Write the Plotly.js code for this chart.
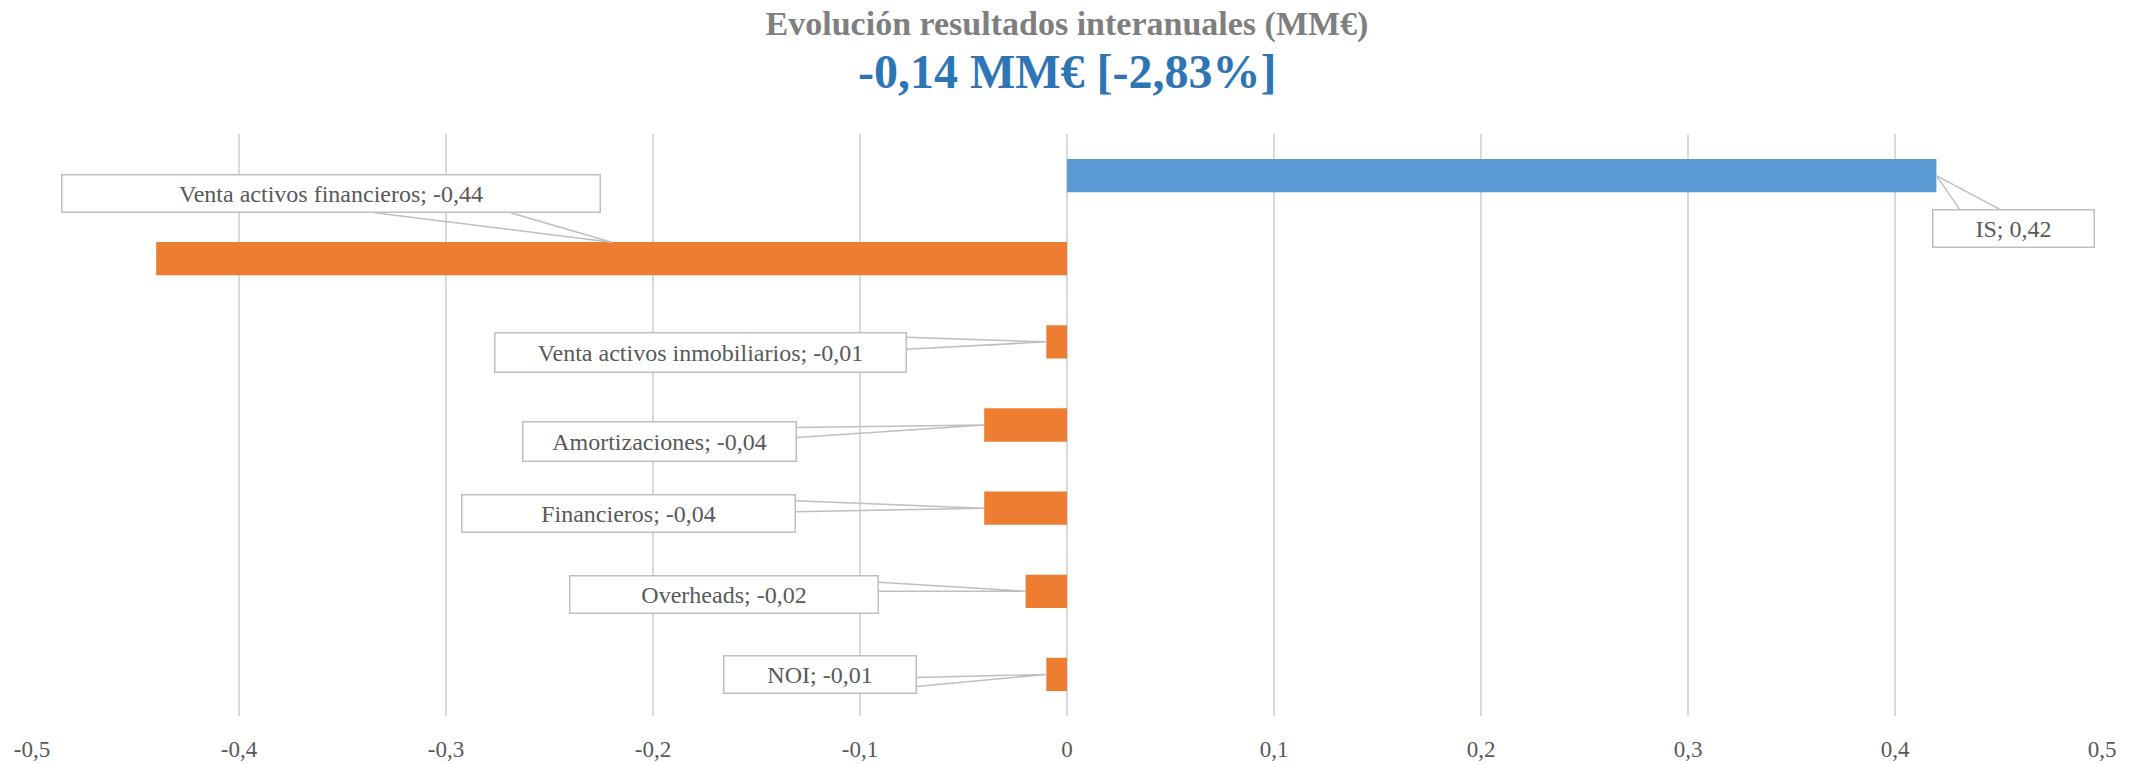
<!DOCTYPE html>
<html>
<head>
<meta charset="utf-8">
<script src="https://cdn.plot.ly/plotly-3.0.1.min.js"></script>
<style>
  html, body { margin: 0; padding: 0; background: #ffffff; }
  #chart { width: 2134px; height: 764px; }
</style>
</head>
<body>
<div id="chart"></div>
<script>
// Year-on-year result drivers (MM€)
const categories = [
  'IS',
  'Venta activos financieros',
  'Venta activos inmobiliarios',
  'Amortizaciones',
  'Financieros',
  'Overheads',
  'NOI'
];
const values = [0.42, -0.44, -0.01, -0.04, -0.04, -0.02, -0.01];
const changePct = '-2,83%';

const tickValues = [-0.5, -0.4, -0.3, -0.2, -0.1, 0, 0.1, 0.2, 0.3, 0.4, 0.5];
const tickLabels = ['-0,5', '-0,4', '-0,3', '-0,2', '-0,1', '0', '0,1', '0,2', '0,3', '0,4', '0,5'];

const chartTitle = 'Evolución resultados interanuales (MM€)';

// Colours
const POS_COLOR = '#5B9BD5';
const NEG_COLOR = '#ED7D31';
const TEXT_COLOR = '#595959';
const CALLOUT_BORDER = '#BFBFBF';
const SERIF = '"Liberation Serif", "DejaVu Serif", serif';

// Comma-decimal formatting
const fmt = v => v.toFixed(2).replace('.', ',');

// Callout placement (pixels, y positive = up), one per category.
// at: 'end' anchors at the bar end, 'mid' at the middle of the bar.
const callouts = [
  { at: 'end', tip: [0, 0],     box: [77, -52.5],   w: 162, h: 38, base: [[23, -33.5], [63, -33.5]] },
  { at: 'mid', tip: [0, 16.5],  box: [-281, 65],    w: 539, h: 38, base: [[-237, 46], [-101, 46]] },
  { at: 'end', tip: [0, 0],     box: [-346, -11],   w: 412, h: 40, base: [[-140, 4.5], [-140, -7.5]] },
  { at: 'end', tip: [0, 0],     box: [-325, -16.5], w: 274, h: 40, base: [[-188, -2.5], [-188, -12.5]] },
  { at: 'end', tip: [0, 0],     box: [-356, -5.5],  w: 334, h: 38, base: [[-189, 7.5], [-189, -3.5]] },
  { at: 'end', tip: [0, 0],     box: [-301.5, -3],  w: 309, h: 38, base: [[-147, 9], [-147, 0]] },
  { at: 'end', tip: [0, 0],     box: [-226.5, 0],   w: 193, h: 38, base: [[-130, -3], [-130, -12]] }
];

const total = values.reduce((a, b) => a + b, 0);

const trace = {
  type: 'bar',
  orientation: 'h',
  x: values,
  y: categories,
  marker: { color: values.map(v => v >= 0 ? POS_COLOR : NEG_COLOR) },
  hoverinfo: 'x+y'
};

const annotations = [];
const shapes = [];

categories.forEach((cat, i) => {
  const c = callouts[i];
  const ax = c.at === 'mid' ? values[i] / 2 : values[i];
  annotations.push({
    xref: 'x', yref: 'y', x: ax, y: cat,
    xshift: c.box[0], yshift: c.box[1],
    xanchor: 'center', yanchor: 'middle',
    text: `${cat}; ${fmt(values[i])}`,
    showarrow: false,
    width: c.w - 2, height: c.h - 2,
    bgcolor: '#ffffff',
    bordercolor: CALLOUT_BORDER,
    borderwidth: 1.5,
    borderpad: 0,
    font: { family: SERIF, size: 24, color: TEXT_COLOR }
  });
  const p = [c.base[0], c.tip, c.base[1]];
  shapes.push({
    type: 'path',
    xref: 'x', yref: 'y',
    xsizemode: 'pixel', ysizemode: 'pixel',
    xanchor: ax, yanchor: i,
    path: `M${p[0][0]},${p[0][1]} L${p[1][0]},${p[1][1]} L${p[2][0]},${p[2][1]}`,
    line: { color: CALLOUT_BORDER, width: 1.5 },
    fillcolor: 'rgba(0,0,0,0)',
    layer: 'above'
  });
});

// Headline figure under the title
annotations.push({
  xref: 'paper', yref: 'paper',
  x: 0.5, y: 1 + (134 - 72) / 582,
  xanchor: 'center', yanchor: 'middle',
  showarrow: false,
  text: `<b>${fmt(total)} MM€ [${changePct}]</b>`,
  font: { family: SERIF, size: 48, color: '#2E75B6' }
});

const layout = {
  width: 2134,
  height: 764,
  paper_bgcolor: '#ffffff',
  plot_bgcolor: '#ffffff',
  margin: { l: 32, r: 32, t: 134, b: 48 },
  showlegend: false,
  bargap: 0.6,
  title: {
    text: `<b>${chartTitle}</b>`,
    x: 0.5, xanchor: 'center',
    y: 1 - 23 / 764, yanchor: 'middle', yref: 'container',
    font: { family: SERIF, size: 34, color: '#7F7F7F' }
  },
  xaxis: {
    range: [-0.5, 0.5],
    autorange: false,
    tickmode: 'array',
    tickvals: tickValues,
    ticktext: tickLabels,
    showgrid: true,
    gridcolor: '#D9D9D9',
    gridwidth: 1.5,
    zeroline: false,
    showline: false,
    ticks: '',
    ticklabelstandoff: 17,
    tickfont: { family: SERIF, size: 23, color: TEXT_COLOR },
    fixedrange: true
  },
  yaxis: {
    type: 'category',
    range: [categories.length - 0.5, -0.5],
    autorange: false,
    showticklabels: false,
    showgrid: false,
    zeroline: false,
    showline: false,
    ticks: '',
    fixedrange: true
  },
  annotations: annotations,
  shapes: shapes
};

Plotly.newPlot('chart', [trace], layout, { displayModeBar: false, staticPlot: true });
</script>
</body>
</html>
